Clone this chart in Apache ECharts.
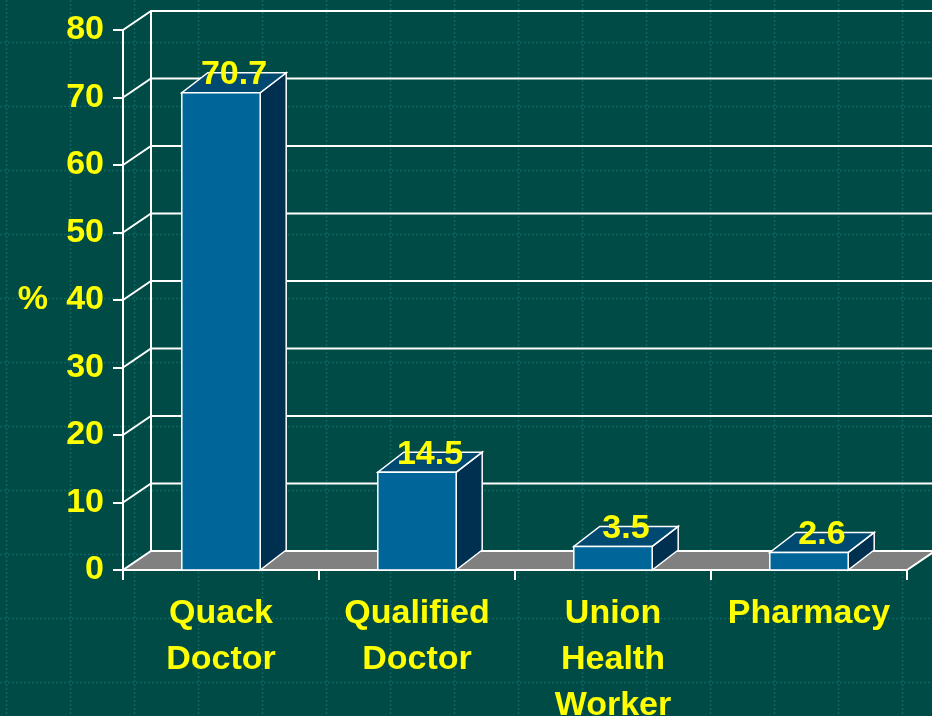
<!DOCTYPE html>
<html>
<head>
<meta charset="utf-8">
<script src="https://cdn.jsdelivr.net/npm/echarts@6/dist/echarts.min.js"></script>
<style>
  html, body { margin: 0; padding: 0; background: #004B45; }
  #chart { width: 932px; height: 716px; }
</style>
</head>
<body>
<div id="chart"></div>
<script>
// data
const categories = ['Quack\nDoctor', 'Qualified\nDoctor', 'Union\nHealth\nWorker', 'Pharmacy']
const values = [70.7, 14.5, 3.5, 2.6]
const yTicks = [0, 10, 20, 30, 40, 50, 60, 70, 80]

const YELLOW = '#FFFF00'
const FONT = '"Liberation Sans", Arial, sans-serif'
const FS = 34
// fake 3d depth offsets
const WALL_DX = 28, WALL_DY = -19
const BAR_DX = 26, BAR_DY = -20

// dotted background pattern like the slide
const tile = document.createElement('canvas')
tile.width = 64
tile.height = 64
const tc = tile.getContext('2d')
tc.fillStyle = '#004B45'
tc.fillRect(0, 0, 64, 64)
tc.strokeStyle = 'rgba(30,130,130,0.5)'
tc.lineWidth = 1.5
tc.setLineDash([2, 2])
tc.beginPath()
tc.moveTo(6.5, 0); tc.lineTo(6.5, 64)
tc.moveTo(0, 42.5); tc.lineTo(64, 42.5)
tc.stroke()

const chart = echarts.init(document.getElementById('chart'))

chart.setOption({
  backgroundColor: { image: tile, repeat: 'repeat' },
  animation: false,
  grid: { left: 123, right: 25, top: 30, bottom: 146, outerBoundsMode: 'none', containLabel: false },
  xAxis: {
    type: 'category',
    data: categories,
    axisLine: { lineStyle: { color: '#fff', width: 2 } },
    axisTick: { show: true, length: 10, lineStyle: { color: '#fff', width: 2 } },
    axisLabel: {
      interval: 0,
      margin: 21,
      color: YELLOW,
      fontSize: FS,
      fontWeight: 'bold',
      fontFamily: FONT,
      lineHeight: 46
    },
    splitLine: { show: false }
  },
  yAxis: {
    type: 'value',
    min: 0,
    max: 80,
    interval: 10,
    name: '%',
    nameLocation: 'middle',
    nameRotate: 0,
    nameGap: 75,
    nameTextStyle: { color: YELLOW, fontSize: FS, fontWeight: 'bold', fontFamily: FONT },
    axisLine: { show: true, lineStyle: { color: '#fff', width: 2 } },
    axisTick: { show: true, length: 10, lineStyle: { color: '#fff', width: 2 } },
    axisLabel: {
      margin: 19,
      color: YELLOW,
      fontSize: FS,
      fontWeight: 'bold',
      fontFamily: FONT
    },
    splitLine: { show: false }
  },
  series: [
    {
      // side wall + back wall gridlines + floor
      type: 'custom',
      silent: true,
      clip: false,
      z: 1,
      data: yTicks.map(v => [0, v]),
      renderItem(params, api) {
        const cs = params.coordSys
        const x0 = cs.x
        const x1 = cs.x + cs.width
        const v = api.value(1)
        const y = api.coord([0, v])[1]
        const line = { stroke: '#fff', lineWidth: 2, fill: null }
        const children = []
        if (v === 0) {
          children.push({
            type: 'polygon',
            shape: { points: [[x0, y], [x1, y], [x1 + WALL_DX, y + WALL_DY], [x0 + WALL_DX, y + WALL_DY]] },
            style: { fill: '#808080', stroke: '#fff', lineWidth: 2 }
          })
        } else {
          children.push({
            type: 'polyline',
            shape: { points: [[x0, y], [x0 + WALL_DX, y + WALL_DY], [x1 + WALL_DX, y + WALL_DY]] },
            style: line
          })
        }
        if (v === yTicks[yTicks.length - 1]) {
          const yb = api.coord([0, 0])[1]
          children.push({
            type: 'line',
            shape: { x1: x0 + WALL_DX, y1: yb + WALL_DY, x2: x0 + WALL_DX, y2: y + WALL_DY },
            style: line
          })
        }
        return { type: 'group', children }
      }
    },
    {
      // 3d looking bars
      type: 'custom',
      clip: false,
      z: 3,
      data: values.map((v, i) => [i, v]),
      renderItem(params, api) {
        const i = api.value(0)
        const v = api.value(1)
        const top = api.coord([i, v])
        const base = api.coord([i, 0])
        const w = api.size([1, 0])[0] * 0.4
        const xl = top[0] - w / 2
        const xr = top[0] + w / 2
        const yt = top[1]
        const yb = base[1]
        const edge = { stroke: '#fff', lineWidth: 1.5 }
        return {
          type: 'group',
          children: [
            {
              type: 'polygon',
              shape: { points: [[xr, yt], [xr + BAR_DX, yt + BAR_DY], [xr + BAR_DX, yb + BAR_DY], [xr, yb]] },
              style: Object.assign({ fill: '#00304F' }, edge)
            },
            {
              type: 'polygon',
              shape: { points: [[xl, yt], [xr, yt], [xr + BAR_DX, yt + BAR_DY], [xl + BAR_DX, yt + BAR_DY]] },
              style: Object.assign({ fill: '#004A72' }, edge)
            },
            {
              type: 'rect',
              shape: { x: xl, y: yt, width: w, height: yb - yt },
              style: Object.assign({ fill: '#006699' }, edge)
            },
            {
              type: 'text',
              x: top[0] + BAR_DX / 2,
              y: yt - 1,
              style: {
                text: String(v),
                fill: YELLOW,
                fontSize: FS,
                fontWeight: 'bold',
                fontFamily: FONT,
                align: 'center',
                verticalAlign: 'bottom'
              }
            }
          ]
        }
      }
    }
  ]
})
</script>
</body>
</html>
